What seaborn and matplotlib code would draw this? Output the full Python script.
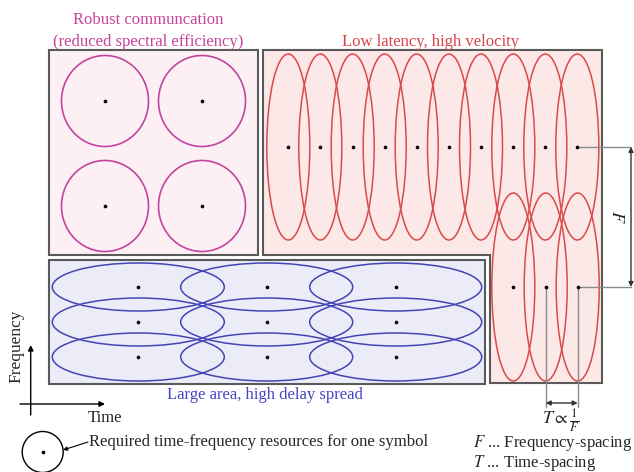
import numpy as np
import pandas as pd
import matplotlib
matplotlib.use("Agg")
import matplotlib.pyplot as plt
from matplotlib.patches import Ellipse, Rectangle, Polygon, Circle
import seaborn as sns

# ---- data: symbol centres (time, frequency) in figure pixel coordinates ----
robust_t = [105, 202]
robust_f = [101, 206]
lowlat_top_t = [288.3, 320.3, 352.7, 384.7, 416.7, 449.0, 481.0, 513.3, 545.3, 577.3]
lowlat_top_f = [147]
lowlat_bot_t = [513.3, 545.7, 577.7]
lowlat_bot_f = [287]
large_t = [138.3, 266.7, 395.7]
large_f = [287, 322, 357]

titles = ["Robust communcation", "(reduced spectral efficiency)",
          "Low latency, high velocity", "Large area, high delay spread"]

sns.set_style("white")
plt.rcParams['font.family'] = ['Liberation Serif', 'DejaVu Serif']
plt.rcParams['mathtext.fontset'] = 'stix'

fig = plt.figure(figsize=(6.34, 4.72), dpi=100)
ax = fig.add_axes([0, 0, 1, 1])

pink_fill, pink_edge, pink_txt = "#fdf0f5", "#c2449e", "#c8449a"
red_fill, red_edge, red_txt = "#fce8e7", "#d94a4a", "#d9444a"
blue_fill, blue_edge, blue_txt = "#ececf8", "#4444b4", "#4646c4"
box_edge = "#5a5a5a"
FS = 12

# boxes
ax.add_patch(Rectangle((49, 50), 209, 205, facecolor=pink_fill, edgecolor=box_edge, lw=1.5, zorder=1))
ax.add_patch(Polygon([(263, 50), (602, 50), (602, 383), (490, 383), (490, 255), (263, 255)],
                     closed=True, facecolor=red_fill, edgecolor=box_edge, lw=1.5, zorder=1))
ax.add_patch(Rectangle((49, 260), 436, 124, facecolor=blue_fill, edgecolor=box_edge, lw=1.5, zorder=1))

# robust circles
for t in robust_t:
    for f in robust_f:
        ax.add_patch(Ellipse((t, f), 87, 91, fill=False, edgecolor=pink_edge, lw=1.2, zorder=2))
# low latency ellipses
for t in lowlat_top_t:
    for f in lowlat_top_f:
        ax.add_patch(Ellipse((t, f), 43, 186, fill=False, edgecolor=red_edge, lw=1.1, zorder=2))
for t in lowlat_bot_t:
    for f in lowlat_bot_f:
        ax.add_patch(Ellipse((t, f), 43, 188, fill=False, edgecolor=red_edge, lw=1.1, zorder=2))
# large area ellipses
for t in large_t:
    for f in large_f:
        ax.add_patch(Ellipse((t, f), 172, 48, fill=False, edgecolor=blue_edge, lw=1.1, zorder=2))

# dots via seaborn
pts = []
for ts, fs in [(robust_t, robust_f), (lowlat_top_t, lowlat_top_f),
               (lowlat_bot_t, lowlat_bot_f), (large_t, large_f)]:
    for t in ts:
        for f in fs:
            pts.append((t, f))
df = pd.DataFrame(pts, columns=["t", "f"])
sns.scatterplot(data=df, x="t", y="f", color="black", s=7, linewidth=0, ax=ax, legend=False, zorder=5)

# titles
ax.text(148, 20, titles[0], color=pink_txt, fontsize=FS, ha="center", va="center")
ax.text(148, 42, titles[1], color=pink_txt, fontsize=FS, ha="center", va="center")
ax.text(431, 42, titles[2], color=red_txt, fontsize=FS, ha="center", va="center")
ax.text(265, 395, titles[3], color=blue_txt, fontsize=FS, ha="center", va="center")

# F bracket
gray = "#8a8a8a"
ax.plot([lowlat_top_t[-1], 631], [lowlat_top_f[0], lowlat_top_f[0]], color=gray, lw=1, zorder=3)
ax.plot([lowlat_bot_t[-1], 631], [lowlat_bot_f[0], lowlat_bot_f[0]], color=gray, lw=1, zorder=3)
ax.annotate("", xy=(631, lowlat_top_f[0]), xytext=(631, lowlat_bot_f[0]),
            arrowprops=dict(arrowstyle="<|-|>", color="#333333", lw=1, shrinkA=0, shrinkB=0,
                            mutation_scale=7))
ax.text(616, 217, r"$F$", fontsize=13, rotation=-90, ha="center", va="center")

# T bracket
ax.plot([lowlat_bot_t[1], lowlat_bot_t[1]], [lowlat_bot_f[0], 407], color=gray, lw=1, zorder=3)
ax.plot([lowlat_bot_t[2], lowlat_bot_t[2]], [lowlat_bot_f[0], 407], color=gray, lw=1, zorder=3)
ax.annotate("", xy=(lowlat_bot_t[1], 403), xytext=(lowlat_bot_t[2], 403),
            arrowprops=dict(arrowstyle="<|-|>", color="#333333", lw=1, shrinkA=0, shrinkB=0,
                            mutation_scale=7))
ax.text(561, 421, r"$T \propto \frac{1}{F}$", fontsize=13, ha="center", va="center")

# axes arrows
ax.annotate("", xy=(30.7, 345), xytext=(30.7, 415),
            arrowprops=dict(arrowstyle="-|>", color="black", lw=1, shrinkA=0, shrinkB=0, mutation_scale=8))
ax.annotate("", xy=(105, 404), xytext=(20, 404),
            arrowprops=dict(arrowstyle="-|>", color="black", lw=1, shrinkA=0, shrinkB=0, mutation_scale=8))
ax.text(16, 346, "Frequency", fontsize=FS + 0.5, rotation=90, ha="center", va="center")
ax.text(88, 418, "Time", fontsize=FS, ha="left", va="center")

# legend
ax.add_patch(Circle((42.7, 452), 20.5, fill=False, edgecolor="black", lw=1, zorder=3))
ax.scatter([42.7], [452], color="black", s=7, linewidth=0, zorder=5)
ax.annotate("", xy=(63, 450), xytext=(88, 442),
            arrowprops=dict(arrowstyle="-|>", color="black", lw=0.8, shrinkA=0, shrinkB=0, mutation_scale=6))
ax.text(89, 442, "Required time-frequency resources for one symbol", fontsize=FS, ha="left", va="center")
ax.text(473, 443, r"$F$ ... Frequency-spacing", fontsize=FS, ha="left", va="center")
ax.text(473, 463, r"$T$ ... Time-spacing", fontsize=FS, ha="left", va="center")

ax.set_xlim(0, 634)
ax.set_ylim(472, 0)
ax.set_aspect("auto")
ax.axis("off")
fig.savefig("out.png", dpi=100)
